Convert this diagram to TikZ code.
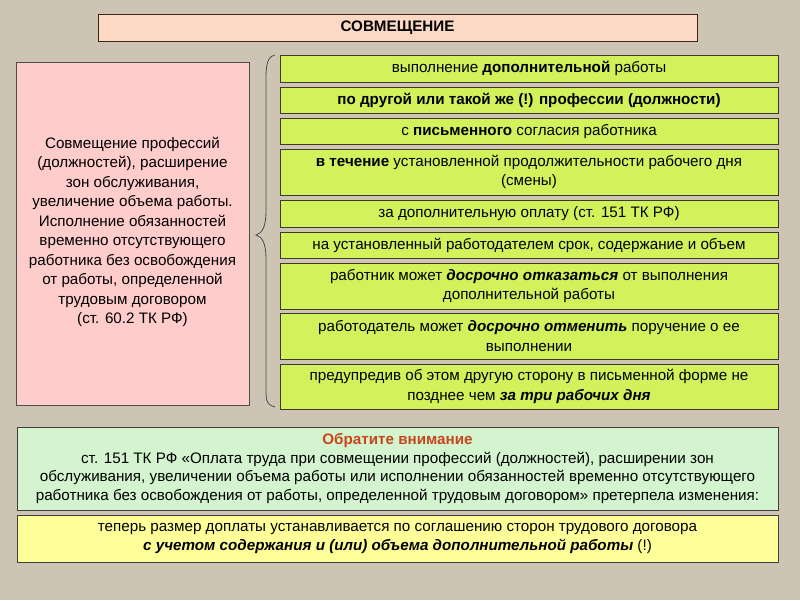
\documentclass[tikz,border=0pt]{standalone}
\usepackage{fontspec}
\setmainfont{Liberation Sans}
\begin{document}
\begin{tikzpicture}[x=1pt,y=-1pt,
  gbox/.style={draw=black!75!olive,line width=0.8pt,fill=gfill},
  fs/.style={font=\fontsize{15.2}{19.5}\selectfont}]
\definecolor{bg}{HTML}{CDC4B3}
\definecolor{gfill}{HTML}{D2F25C}
\definecolor{pfill}{HTML}{FFCCCC}
\definecolor{tfill}{HTML}{FCD9C4}
\definecolor{afill}{HTML}{D4F3CF}
\definecolor{yfill}{HTML}{FFFF99}
\definecolor{red1}{HTML}{C8461C}
\fill[bg] (0,0) rectangle (800,600);
\useasboundingbox (0,0) rectangle (800,600);
\draw[fill=tfill,draw=black!70!brown,line width=0.8pt] (98,14) rectangle (697,41);
\node[font=\fontsize{15.2}{18}\bfseries] (title) at (397.5,27.5) {СОВМЕЩЕНИЕ};
\draw[fill=pfill,draw=black!70,line width=0.8pt] (16,62) rectangle (249,405);
\node[fs,align=center] (left) at (132.5,232) {Совмещение профессий\\(должностей), расширение\\зон обслуживания,\\увеличение объема работы.\\Исполнение обязанностей\\временно отсутствующего\\работника без освобождения\\от работы, определенной\\трудовым договором\\(ст. 60.2 ТК РФ)};
\draw[black!70,line width=0.8pt] (275,55) .. controls (265,57) and (266,70) .. (266,90) -- (266,210) .. controls (266,228) and (262,233) .. (256,235) .. controls (262,237) and (266,242) .. (266,260) -- (266,380) .. controls (266,400) and (265,404) .. (275,407);
\foreach \n/\a/\b in {g1/55/82,g2/87/113,g3/118/144,g4/149/195,g5/200/227,g6/232/258,g7/263/309,g8/313/359,g9/364/409}
  \draw[gbox] (280,\a) rectangle (778,\b);
\node[fs] (t1) at (529,68.5) {выполнение \textbf{дополнительной} работы};
\node[fs] (t2) at (529,100) {\textbf{по другой или такой же (!) профессии (должности)}};
\node[fs] (t3) at (529,131) {с \textbf{письменного} согласия работника};
\node[fs,align=center] (t4) at (529,172) {\textbf{в течение} установленной продолжительности рабочего дня\\(смены)};
\node[fs] (t5) at (529,213.5) {за дополнительную оплату (ст. 151 ТК РФ)};
\node[fs] (t6) at (529,245) {на установленный работодателем срок, содержание и объем};
\node[fs,align=center] (t7) at (529,286) {работник может \textbf{\textit{досрочно отказаться}} от выполнения\\дополнительной работы};
\node[fs,align=center] (t8) at (529,336) {работодатель может \textbf{\textit{досрочно отменить}} поручение о ее\\выполнении};
\node[fs,align=center] (t9) at (529,386.5) {предупредив об этом другую сторону в письменной форме не\\позднее чем \textbf{\textit{за три рабочих дня}}};
\draw[fill=afill,draw=black!75,line width=0.8pt] (17,427) rectangle (778,510);
\node[fs,align=center,font=\fontsize{15.2}{18.5}\selectfont] (att) at (397.5,468.5) {\textcolor{red1}{\textbf{Обратите внимание}}\\ст. 151 ТК РФ «Оплата труда при совмещении профессий (должностей), расширении зон\\обслуживания, увеличении объема работы или исполнении обязанностей временно отсутствующего\\работника без освобождения от работы, определенной трудовым договором» претерпела изменения:};
\draw[fill=yfill,draw=black!75,line width=0.8pt] (17,515) rectangle (778,562);
\node[fs,align=center] (now) at (397.5,538.5) {теперь размер доплаты устанавливается по соглашению сторон трудового договора\\\textbf{\textit{с учетом содержания и (или) объема дополнительной работы}} (!)};
\end{tikzpicture}
\end{document}
